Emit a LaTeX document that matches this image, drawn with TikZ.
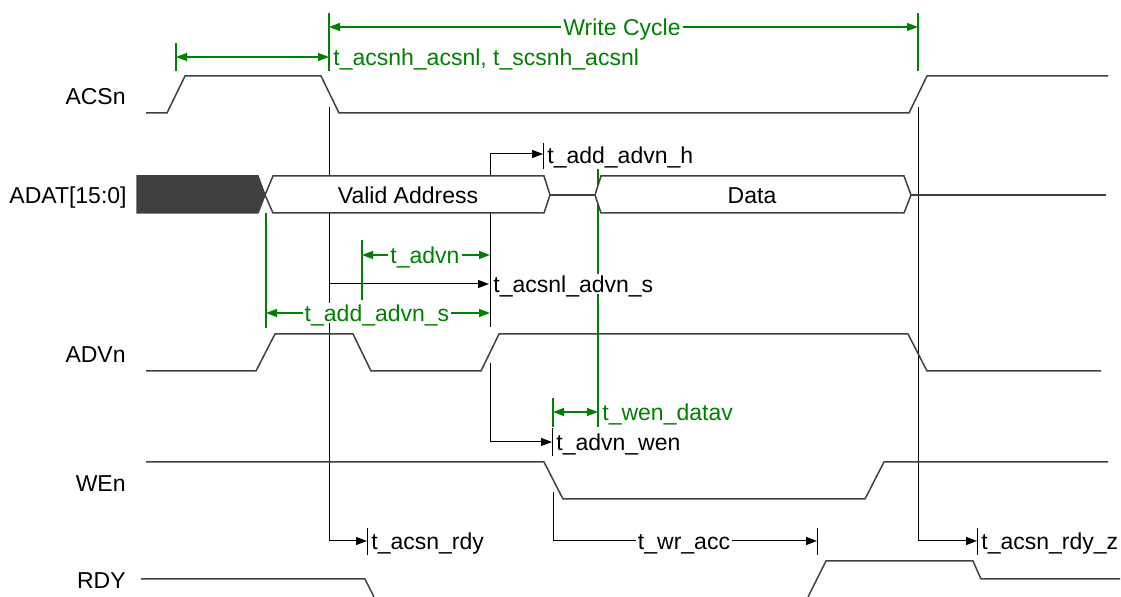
\documentclass[tikz,border=0pt]{standalone}
\usepackage{fontspec}
\setmainfont{Liberation Sans}
\usetikzlibrary{arrows.meta}
\definecolor{wavecol}{RGB}{64,64,64}
\definecolor{dimgreen}{RGB}{0,128,0}
\definecolor{busdark}{RGB}{64,64,64}

\begin{document}
\begin{tikzpicture}[x=0.5pt, y=-0.5pt, font=\fontsize{11.5}{13}\selectfont]
\tikzstyle{wave} = [draw=wavecol, line width=0.75pt, line join=miter]
\tikzstyle{ref} = [draw=black, line width=0.5pt]
\tikzstyle{dim} = [draw=dimgreen, line width=0.6pt]
\tikzstyle{tip} = [-{Triangle[length=5.5pt, width=4pt]}]
\tikzstyle{tips} = [{Triangle[length=5.5pt, width=4pt]}-{Triangle[length=5.5pt, width=4pt]}]
\tikzstyle{signame} = [anchor=east, inner sep=0pt, text height=8.3pt, text depth=0pt]
\tikzstyle{tlabel} = [inner sep=1pt, text height=8.3pt, text depth=0pt]
\useasboundingbox (0,0) rectangle (1121,597);

% signal names
\node (nACSn) [signame] at (126,96)  {ACSn};
\node (nADAT) [signame] at (127,195) {ADAT[15:0]};
\node (nADVn) [signame] at (126,354) {ADVn};
\node (nWEn)  [signame] at (126,483) {WEn};
\node (nRDY)  [signame] at (126,580) {RDY};

% timing reference points
\coordinate (csL)  at (329,107);
\coordinate (csH)  at (918,107);
\coordinate (advR) at (490,154);
\coordinate (weF)  at (553,492);

% black reference lines
\draw [ref, tip] (csL) -- (329,541) -- (367,541);
\draw [ref] (367,528) -- (367,555);
\draw [ref, tip] (329,284) -- (489,284);
\draw [ref, tip] (490,327) -- (advR) -- (543,154);
\draw [ref] (543,143) -- (543,169);
\draw [ref, tip] (490,363) -- (490,442) -- (552,442);
\draw [ref] (552,428) -- (552,456);
\draw [ref, tip] (weF) -- (553,541) -- (817,541);
\draw [ref] (817,528) -- (817,555);
\draw [ref, tip] (csH) -- (918,541) -- (977,541);
\draw [ref] (977,528) -- (977,555);

% green dimension lines
\draw [dim] (329,13) -- (329,71);
\draw [dim] (918,13) -- (918,71);
\draw [dim, tips] (329,27) -- (918,27);
\draw [dim] (176,43) -- (176,71);
\draw [dim, tips] (176,57) -- (329,57);
\draw [dim] (362,240) -- (362,300);
\draw [dim, tips] (362,255) -- (490,255);
\draw [dim] (266,213) -- (266,328);
\draw [dim, tips] (266,313) -- (490,313);
\draw [dim] (598,169) -- (598,427);
\draw [dim] (553,398) -- (553,427);
\draw [dim, tips] (553,412) -- (598,412);

% waveforms
\draw [wave] (146,113) -- (167,113) -- (185,76) -- (321,76) -- (339,113) -- (909,113) -- (927,76) -- (1108,76);
\draw [wave] (550,195) -- (595,195);
\draw [wave] (911,195) -- (1106,195);
\draw [wave, fill=busdark] (137,176) -- (258,176) -- (265,195) -- (258,213) -- (137,213) -- cycle;
\draw [wave, fill=white] (265,195) -- (273,176) -- (544,176) -- (550,195) -- (544,213) -- (273,213) -- cycle;
\draw [wave, fill=white] (595,195) -- (601,176) -- (904,176) -- (911,195) -- (904,213) -- (601,213) -- cycle;
\draw [wave] (146,371) -- (256,371) -- (275,334) -- (353,334) -- (371,371) -- (481,371) -- (499,334) -- (908,334) -- (927,371) -- (1101,371);
\draw [wave] (146,462) -- (544,462) -- (563,499) -- (865,499) -- (884,462) -- (1108,462);
\draw [wave] (141,579) -- (365,579) -- (374,597);
\draw [wave] (808,597) -- (826,561) -- (973,561) -- (981,579) -- (1120,579);

% bus values
\node (vaddr) [tlabel] at (408,195) {Valid Address};
\node (vdata) [tlabel] at (752,195) {Data};

% timing labels
\node (wcyc)   [tlabel, fill=white, text=dimgreen] at (622,27) {Write Cycle};
\node (tcsnh)  [tlabel, anchor=west, text=dimgreen] at (331,57) {t\_acsnh\_acsnl, t\_scsnh\_acsnl};
\node (tadvn)  [tlabel, fill=white, text=dimgreen] at (425,255) {t\_advn};
\node (taddas) [tlabel, fill=white, text=dimgreen] at (377,313) {t\_add\_advn\_s};
\node (tacsas) [tlabel, anchor=west, fill=white] at (491,284) {t\_acsnl\_advn\_s};
\node (taddah) [tlabel, anchor=west] at (545,155) {t\_add\_advn\_h};
\node (twend)  [tlabel, anchor=west, text=dimgreen] at (600,412) {t\_wen\_datav};
\node (tadvw)  [tlabel, anchor=west] at (554,442) {t\_advn\_wen};
\node (tcsrdy) [tlabel, anchor=west] at (369,541) {t\_acsn\_rdy};
\node (twracc) [tlabel, fill=white] at (684,541) {t\_wr\_acc};
\node (tcsrz)  [tlabel, anchor=west] at (979,541) {t\_acsn\_rdy\_z};
\end{tikzpicture}
\end{document}
